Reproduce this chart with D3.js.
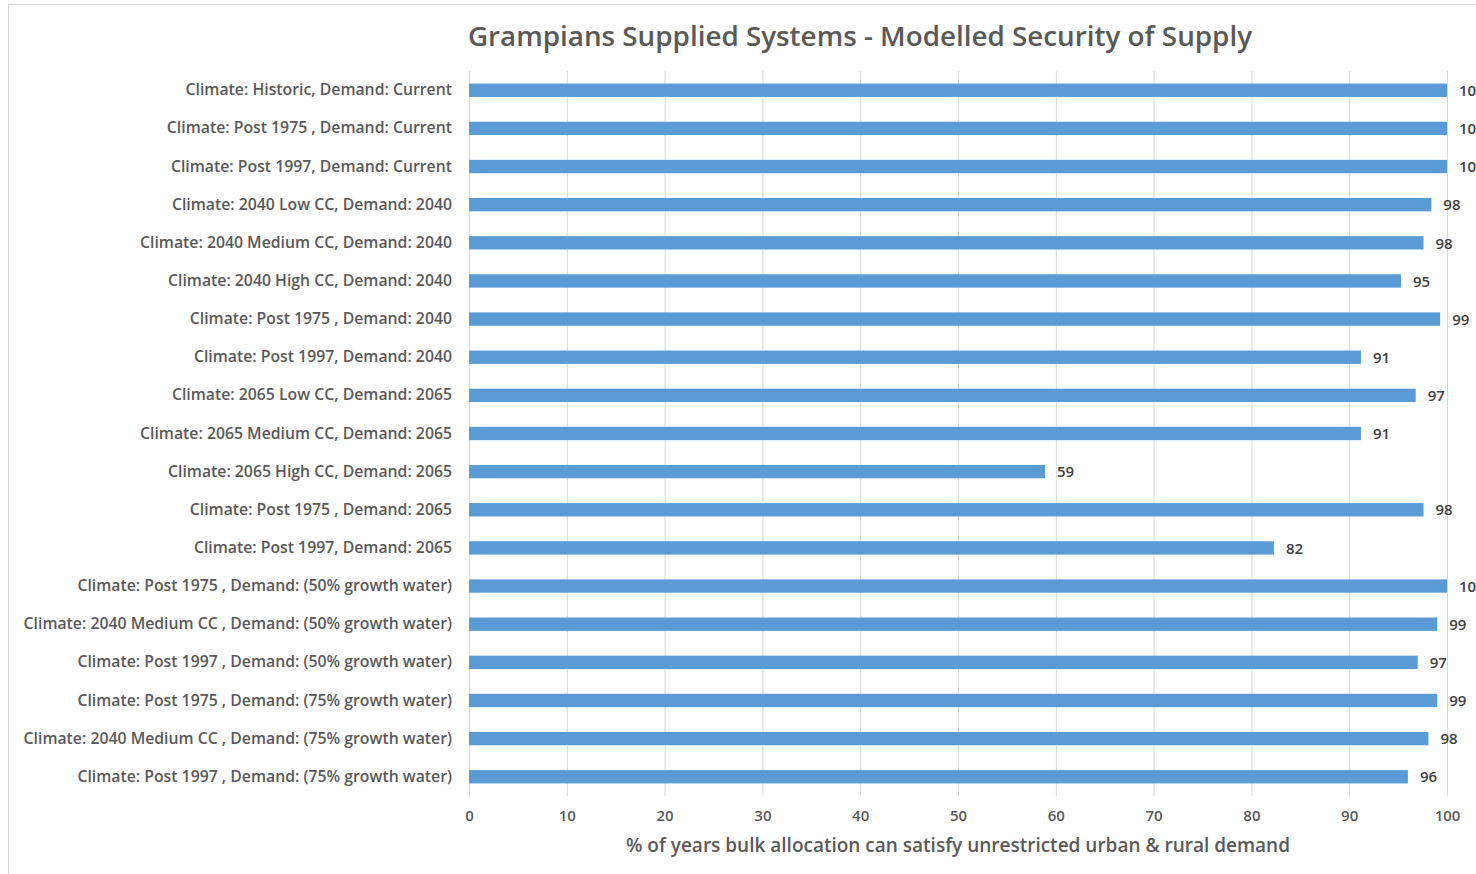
<!DOCTYPE html>
<html>
<head>
<meta charset="utf-8">
<script src="https://cdn.jsdelivr.net/npm/d3@7"></script>
<style>
  html, body { margin: 0; padding: 0; background: #fff; overflow: hidden; }
  svg text { font-family: "Open Sans", "Liberation Sans", sans-serif; fill: #595959; }
</style>
</head>
<body>
<svg id="chart" width="1476" height="874"></svg>
<script>
/* ---------- data ---------- */
const scenarios = [
  "Climate: Historic, Demand: Current",
  "Climate: Post 1975 , Demand: Current",
  "Climate: Post 1997, Demand: Current",
  "Climate: 2040 Low CC, Demand: 2040",
  "Climate: 2040 Medium CC, Demand: 2040",
  "Climate: 2040 High CC, Demand: 2040",
  "Climate: Post 1975 , Demand: 2040",
  "Climate: Post 1997, Demand: 2040",
  "Climate: 2065 Low CC, Demand: 2065",
  "Climate: 2065 Medium CC, Demand: 2065",
  "Climate: 2065 High CC, Demand: 2065",
  "Climate: Post 1975 , Demand: 2065",
  "Climate: Post 1997, Demand: 2065",
  "Climate: Post 1975 , Demand: (50% growth water)",
  "Climate: 2040 Medium CC , Demand: (50% growth water)",
  "Climate: Post 1997 , Demand: (50% growth water)",
  "Climate: Post 1975 , Demand: (75% growth water)",
  "Climate: 2040 Medium CC , Demand: (75% growth water)",
  "Climate: Post 1997 , Demand: (75% growth water)"
];
const security = [100, 100, 100, 98.4, 97.6, 95.3, 99.3, 91.2, 96.8, 91.2,
                  58.9, 97.6, 82.3, 100, 99.0, 97.0, 99.0, 98.1, 96.0];
const xTicks = [0, 10, 20, 30, 40, 50, 60, 70, 80, 90, 100];

const title = "Grampians  Supplied Systems - Modelled Security of Supply";
const xTitle = "% of years bulk allocation can satisfy unrestricted urban & rural demand";

/* ---------- layout ---------- */
const W = 1476, H = 874;
const plot = { left: 469, right: 1447, top: 71, bottom: 796 };

const svg = d3.select("#chart");

// chart area border
svg.append("rect")
  .attr("x", 8.5).attr("y", 4.5)
  .attr("width", W).attr("height", H)
  .attr("fill", "#fff")
  .attr("stroke", "#d9d9d9");

const x = d3.scaleLinear().domain([0, 100]).range([plot.left, plot.right]);
const y = d3.scaleBand().domain(scenarios).range([plot.top, plot.bottom]).paddingInner(0.65).paddingOuter(0.33);

/* ---------- gridlines ---------- */
svg.append("g")
  .selectAll("line")
  .data(xTicks)
  .enter()
  .append("line")
  .attr("x1", (d) => x(d) + 0.5)
  .attr("x2", (d) => x(d) + 0.5)
  .attr("y1", plot.top)
  .attr("y2", plot.bottom)
  .attr("stroke", "#d9d9d9")
  .attr("stroke-width", 1);

/* ---------- bars ---------- */
const rows = scenarios.map((s, i) => ({ label: s, value: security[i] }));

svg.append("g")
  .selectAll("rect")
  .data(rows)
  .enter()
  .append("rect")
  .attr("x", x(0))
  .attr("y", (d) => y(d.label))
  .attr("width", (d) => x(d.value) - x(0))
  .attr("height", y.bandwidth())
  .attr("fill", "#5b9bd5");

/* ---------- data labels ---------- */
svg.append("g")
  .selectAll("text")
  .data(rows)
  .enter()
  .append("text")
  .attr("x", (d) => x(d.value) + 12)
  .attr("y", (d) => y(d.label) + y.bandwidth() / 2)
  .attr("dy", "0.38em")
  .attr("font-size", 15)
  .attr("font-weight", 600)
  .style("fill", "#404040")
  .text((d) => Math.round(d.value));

/* ---------- category axis ---------- */
const yAxis = svg.append("g")
  .attr("transform", `translate(${plot.left - 17},0)`)
  .call(d3.axisLeft(y).tickSize(0).tickPadding(0));
yAxis.select(".domain").remove();
yAxis.selectAll("text")
  .attr("font-size", 15.8)
  .attr("font-weight", 600)
  .attr("font-family", null);

/* ---------- value axis ---------- */
const xAxis = svg.append("g")
  .attr("transform", `translate(0,${plot.bottom})`)
  .call(d3.axisBottom(x).tickValues(xTicks).tickSize(0).tickPadding(14));
xAxis.select(".domain").remove();
xAxis.selectAll("text")
  .attr("font-size", 15)
  .attr("font-weight", 600)
  .attr("font-family", null);

/* ---------- titles ---------- */
svg.append("text")
  .attr("x", 860)
  .attr("y", 46)
  .attr("text-anchor", "middle")
  .attr("font-size", 27.8)
  .attr("font-weight", 600)
  .style("fill", "#595959")
  .text(title);

svg.append("text")
  .attr("x", 958)
  .attr("y", 852)
  .attr("text-anchor", "middle")
  .attr("font-size", 19)
  .attr("font-weight", 600)
  .text(xTitle);
</script>
</body>
</html>
